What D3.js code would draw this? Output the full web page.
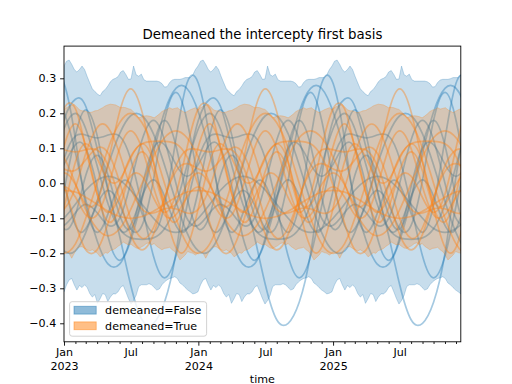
<!DOCTYPE html>
<html>
<head>
<meta charset="utf-8">
<script src="https://cdn.jsdelivr.net/npm/d3@7"></script>
<style>
body{margin:0;background:#fff;}
svg text{font-family:"DejaVu Sans",sans-serif;fill:#000;}
</style>
</head>
<body>
<div id="chart"></div>
<script>
//Data: weekly HDI band, one year of the seasonal profile (week 0 = first Sunday of Jan)
const blueUpper = [0.335,0.349,0.352,0.34,0.325,0.318,0.325,0.335,0.325,0.305,0.287,0.27,0.262,0.255,0.25,0.262,0.268,0.278,0.29,0.297,
    0.3,0.305,0.318,0.322,0.311,0.297,0.298,0.335,0.31,0.306,0.312,0.296,0.292,0.292,0.292,0.292,0.292,0.29,0.285,0.275,
    0.276,0.288,0.295,0.297,0.297,0.297,0.299,0.302,0.302,0.302,0.31,0.325];
const blueLower = [-0.31,-0.29,-0.276,-0.272,-0.29,-0.305,-0.292,-0.298,-0.29,-0.298,-0.315,-0.325,-0.318,-0.343,-0.33,-0.315,-0.318,-0.338,-0.325,-0.316,
    -0.316,-0.31,-0.297,-0.292,-0.31,-0.329,-0.345,-0.335,-0.32,-0.295,-0.29,-0.29,-0.29,-0.287,-0.29,-0.298,-0.305,-0.302,-0.29,-0.282,
    -0.276,-0.272,-0.27,-0.267,-0.272,-0.285,-0.29,-0.298,-0.305,-0.31,-0.316,-0.314];
const orangeUpper = [0.21,0.216,0.22,0.223,0.225,0.218,0.21,0.207,0.207,0.204,0.202,0.204,0.207,0.208,0.212,0.216,0.221,0.224,0.226,0.225,
    0.224,0.22,0.216,0.217,0.216,0.213,0.211,0.204,0.197,0.187,0.19,0.192,0.193,0.192,0.19,0.187,0.192,0.198,0.205,0.209,
    0.211,0.216,0.212,0.214,0.216,0.21,0.206,0.202,0.206,0.21,0.213,0.216];
const orangeLower = [-0.2,-0.195,-0.2,-0.214,-0.2,-0.186,-0.182,-0.181,-0.186,-0.19,-0.193,-0.19,-0.195,-0.2,-0.21,-0.205,-0.198,-0.2,-0.192,-0.19,
    -0.186,-0.18,-0.175,-0.168,-0.172,-0.176,-0.174,-0.18,-0.185,-0.186,-0.182,-0.178,-0.172,-0.17,-0.176,-0.172,-0.18,-0.185,-0.19,-0.186,
    -0.185,-0.183,-0.19,-0.195,-0.205,-0.219,-0.212,-0.205,-0.195,-0.198,-0.2,-0.205];

//sample curves, value on the 1st of each month (Jan..Dec)
const blueDraws = [
    [0.18,0.24,0.22,0.10,-0.02,-0.15,-0.29,-0.39,-0.40,-0.34,-0.20,0.02],
    [0.204,0.087,-0.047,-0.164,-0.231,-0.231,-0.164,-0.047,0.087,0.204,0.271,0.271],
    [0.01,-0.12,-0.13,-0.06,-0.02,-0.06,-0.13,-0.12,0.01,0.18,0.26,0.18],
    [-0.02,0.137,0.21,0.137,-0.02,-0.13,-0.12,-0.037,0.01,-0.037,-0.12,-0.13],
    [0.156,0.2,0.156,0.05,-0.06,-0.13,-0.156,-0.16,-0.156,-0.13,-0.06,0.05],
    [0.054,0.11,0.1,-0.01,-0.154,-0.22,-0.154,-0.01,0.1,0.11,0.054,0.02],
    [0.07,0.135,0.138,0.13,0.138,0.135,0.07,-0.065,-0.208,-0.27,-0.208,-0.065],
    [0.286,0.126,-0.062,-0.14,-0.086,-0.004,-0.004,-0.086,-0.14,-0.062,0.126,0.286],
    [-0.1,-0.06,-0.02,0.009,0.02,0.009,-0.02,-0.06,-0.1,-0.129,-0.14,-0.129],
    [-0.13,-0.09,0.022,0.08,0.022,-0.09,-0.13,-0.04,0.108,0.18,0.108,-0.04],
    [-0.12,-0.084,-0.06,-0.084,-0.12,-0.1,0,0.124,0.18,0.124,0,-0.1],
    [-0.193,-0.193,-0.141,-0.052,0.052,0.141,0.193,0.193,0.141,0.052,-0.052,-0.141]
];
const orangeDraws = [
    [0.03,-0.004,-0.06,-0.05,0.06,0.204,0.27,0.204,0.06,-0.05,-0.06,-0.004],
    [0.213,0.213,0.101,-0.031,-0.083,-0.041,0.02,0.02,-0.041,-0.083,-0.031,0.101],
    [-0.2,-0.173,-0.1,0,0.1,0.173,0.2,0.173,0.1,0,-0.1,-0.173],
    [-0.01,-0.039,-0.09,-0.09,-0.01,0.099,0.15,0.099,-0.01,-0.09,-0.09,-0.039],
    [-0.006,-0.113,-0.19,-0.19,-0.113,-0.006,0.076,0.113,0.12,0.12,0.113,0.076],
    [-0.071,0.061,0.113,0.071,0.01,0.01,0.071,0.113,0.061,-0.071,-0.183,-0.183],
    [0.075,0,-0.075,-0.13,-0.15,-0.13,-0.075,0,0.075,0.13,0.15,0.13],
    [0.105,0.17,0.105,-0.03,-0.11,-0.07,0.035,0.09,0.035,-0.07,-0.11,-0.03],
    [-0.074,-0.012,0.085,0.159,0.159,0.085,-0.012,-0.074,-0.085,-0.073,-0.073,-0.085],
    [0.096,0.09,0.096,0.095,0.05,-0.045,-0.146,-0.19,-0.146,-0.045,0.05,0.095],
    [-0.02,-0.025,-0.04,-0.06,-0.08,-0.095,-0.1,-0.095,-0.08,-0.06,-0.04,-0.025],
    [0.041,0.037,0.067,0.101,0.086,0.004,-0.101,-0.157,-0.127,-0.041,0.034,0.056]
];

const yTicks = [-0.4,-0.3,-0.2,-0.1,0,0.1,0.2,0.3];
const legendLabels = ['demeaned=False','demeaned=True'];
const titleText = 'Demeaned the intercepty first basis';

//Canvas
const svg_width = 512, svg_height = 384;
const plotLeft = 64, plotRight = 460.8, plotTop = 46.1, plotBottom = 341.8;
const fs = 11.1;
const blue = '#1f77b4', orange = '#ff7f0e';

const svg = d3.select('#chart').append('svg')
    .attr('width', svg_width).attr('height', svg_height);

const startDate = new Date(2023,0,1), endDate = new Date(2025,11,14);
const xScale = d3.scaleTime().domain([startDate, endDate]).range([plotLeft, plotRight]);
const yScale = d3.scaleLinear().domain([-0.4529, 0.392]).range([plotBottom, plotTop]);

svg.append('clipPath').attr('id','plot-clip').append('rect')
    .attr('x',plotLeft).attr('y',plotTop).attr('width',plotRight-plotLeft).attr('height',plotBottom-plotTop);
const plot = svg.append('g').attr('clip-path','url(#plot-clip)');

//weekly dates, band values follow the yearly profile
const weeks = d3.timeWeek.range(startDate, d3.timeDay.offset(endDate,1));
function bandData(upper, lower){
    return weeks.map((d,i) => ({date:d, hi:upper[i % 52], lo:lower[i % 52]}));
}
const months = d3.timeMonth.range(new Date(2022,10,1), new Date(2026,2,1));
function drawData(vals){
    return months.map(d => ({date:d, v:vals[d.getMonth()]}));
}

const area = d3.area().x(d=>xScale(d.date)).y0(d=>yScale(d.lo)).y1(d=>yScale(d.hi));
const line = d3.line().x(d=>xScale(d.date)).y(d=>yScale(d.v)).curve(d3.curveNatural);

function drawGroup(upper, lower, draws, color){
    plot.append('path').datum(bandData(upper, lower)).attr('d', area)
        .attr('fill', color).attr('fill-opacity', 0.25)
        .attr('stroke', color).attr('stroke-opacity', 0.25).attr('stroke-width', 1);
    plot.selectAll(null).data(draws).enter().append('path')
        .attr('d', d => line(drawData(d)))
        .attr('fill','none').attr('stroke', color)
        .attr('stroke-opacity', 0.4).attr('stroke-width', 1.7);
}
drawGroup(blueUpper, blueLower, blueDraws, blue);
drawGroup(orangeUpper, orangeLower, orangeDraws, orange);

//Axes
const allMonths = d3.timeMonth.range(startDate, endDate);
const janTicks = allMonths.filter(d => d.getMonth() === 0);
const minorTicks = allMonths.filter(d => d.getMonth() !== 0);

const xMinor = d3.axisBottom(xScale).tickValues(minorTicks).tickSize(2.2).tickPadding(4.6)
    .tickFormat(d => d.getMonth() === 6 ? 'Jul' : '');
const xMajor = d3.axisBottom(xScale).tickValues(janTicks).tickSize(3.9).tickPadding(2.9)
    .tickFormat(() => 'Jan');

const gMinor = svg.append('g').attr('transform',`translate(0,${plotBottom})`).call(xMinor);
const gMajor = svg.append('g').attr('transform',`translate(0,${plotBottom})`).call(xMajor);
gMinor.selectAll('.tick text').filter(d => d.getMonth() !== 6).remove();
//year line under each Jan label
gMajor.selectAll('.tick').append('text')
    .attr('y', 9.2 + fs).attr('dy','0.71em').attr('fill','#000')
    .text(d => d.getFullYear());

const yAxis = d3.axisLeft(yScale).tickValues(yTicks).tickSize(3.9).tickPadding(3.9)
    .tickFormat(d3.format('.1f'));
const gY = svg.append('g').attr('transform',`translate(${plotLeft},0)`).call(yAxis);

[gMinor, gMajor, gY].forEach(g => {
    g.select('.domain').remove();
    g.attr('font-family', null).attr('font-size', null);
    g.selectAll('.tick line').attr('stroke','#000').attr('stroke-width',0.89);
    g.selectAll('.tick text').style('font-size', fs + 'px');
});

//Spines
svg.append('rect').attr('x',plotLeft).attr('y',plotTop).attr('width',plotRight-plotLeft).attr('height',plotBottom-plotTop)
    .attr('fill','none').attr('stroke','#000').attr('stroke-width',0.89);

//Title & label
svg.append('text').attr('x',(plotLeft+plotRight)/2).attr('y',39).attr('text-anchor','middle')
    .style('font-size','13.33px').text(titleText);
svg.append('text').attr('x',(plotLeft+plotRight)/2).attr('y',382.5).attr('text-anchor','middle')
    .style('font-size', fs + 'px').text('time');

//Legend
const legend = svg.append('g').attr('transform','translate(69.6,301.7)');
legend.append('rect').attr('width',137).attr('height',34.5).attr('rx',2.5)
    .attr('fill','#fff').attr('fill-opacity',0.8).attr('stroke','#cccccc').attr('stroke-width',0.89);
[blue, orange].forEach((c,i) => {
    legend.append('rect').attr('x',4.4).attr('y',4.6 + i*15.6).attr('width',22.2).attr('height',7.8)
        .attr('fill',c).attr('fill-opacity',0.5).attr('stroke',c).attr('stroke-opacity',0.5).attr('stroke-width',0.9);
    legend.append('text').attr('x',35.5).attr('y',12.4 + i*15.6)
        .style('font-size', fs + 'px').text(legendLabels[i]);
});
</script>
</body>
</html>
